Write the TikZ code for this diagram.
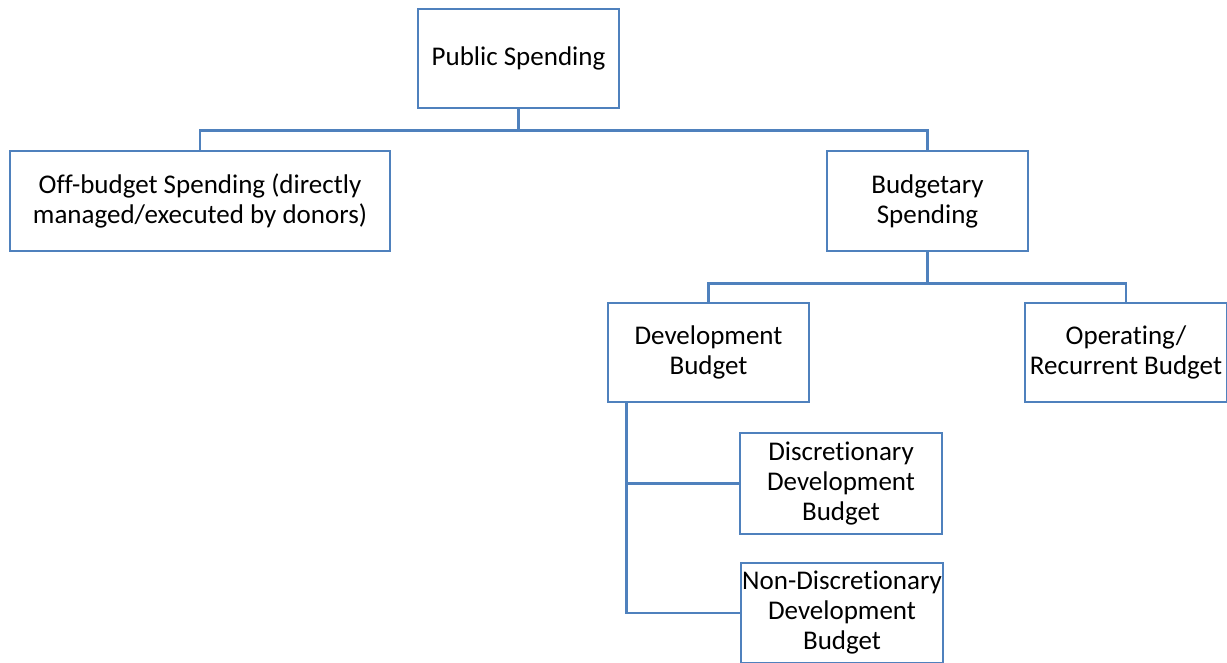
\documentclass[tikz,border=0pt]{standalone}
\usepackage{fontspec}
\setmainfont{Carlito}[Ligatures=NoCommon]
\definecolor{boxblue}{HTML}{4F81BD}
\begin{document}
\begin{tikzpicture}[x=0.5pt,y=-0.5pt,
  box/.style={draw=boxblue, line width=1.4pt, fill=white, rectangle,
    inner sep=0pt, align=center, font=\fontsize{13.5}{15}\selectfont},
  link/.style={draw=boxblue, line width=1.4pt}]
\useasboundingbox (0,0) rectangle (1227,663);

% boxes (sizes in pt = half the drawn pixel size)
\node[box, minimum width=100.5pt, minimum height=49.5pt] (ps) at (518.5,58.5) {Public Spending};
\node[box, minimum width=190pt, minimum height=50pt] (off) at (200,201)
  {Off-budget Spending (directly\\managed/executed by donors)};
\node[box, minimum width=100.5pt, minimum height=50pt] (bud) at (927.5,201) {Budgetary\\Spending};
\node[box, minimum width=100.5pt, minimum height=49.5pt] (dev) at (708.5,352.5) {Development\\Budget};
\node[box, minimum width=101pt, minimum height=49.5pt] (op) at (1126,352.5) {Operating/\\Recurrent Budget};
\node[box, minimum width=101pt, minimum height=50.5pt] (disc) at (841,483.5) {Discretionary\\Development\\Budget};
\node[box, minimum width=101pt, minimum height=50pt] (ndisc) at (842,613) {Non-Discretionary\\Development\\Budget};

% connectors
\draw[link] (ps.south) -- ++(0,21) -| (off.north);
\draw[link] (ps.south) -- ++(0,21) -| (bud.north);
\draw[link] (bud.south) -- ++(0,31) -| (dev.north);
\draw[link] (bud.south) -- ++(0,31) -| (op.north);
\draw[link] ([xshift=10pt]dev.south west) |- (disc.west);
\draw[link] ([xshift=10pt]dev.south west) |- (ndisc.west);
\end{tikzpicture}
\end{document}
